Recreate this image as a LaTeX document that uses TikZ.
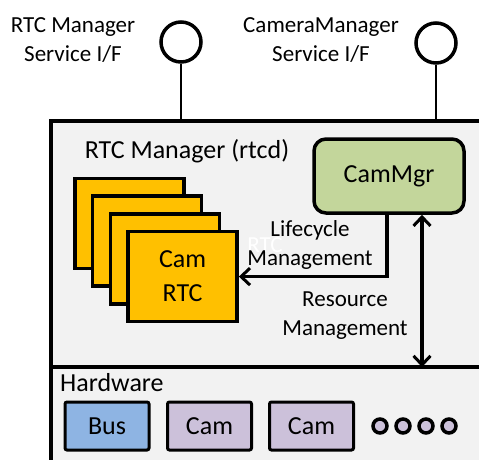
\documentclass[tikz,border=0pt]{standalone}
\usepackage{fontspec}
\setmainfont{Carlito}
\usetikzlibrary{arrows.meta}
\definecolor{bggray}{HTML}{F2F2F2}
\definecolor{rtcyellow}{HTML}{FFC000}
\definecolor{mgrgreen}{HTML}{C3D69B}
\definecolor{busblue}{HTML}{8EB4E3}
\definecolor{campurple}{HTML}{CCC1DA}
\tikzset{
  txt/.style={inner sep=0pt, font=\fontsize{23}{29}\selectfont, align=center},
  bigtxt/.style={inner sep=0pt, font=\fontsize{26}{34}\selectfont, align=center},
  ifcircle/.style={draw, circle, line width=3.5pt, minimum size=40pt, inner sep=0pt},
  rtcbox/.style={draw, line width=3.5pt, fill=rtcyellow, minimum width=109pt, minimum height=90pt, inner sep=0pt},
  hwbox/.style={draw, line width=3pt, rounded corners=2pt, minimum width=84pt, minimum height=48pt, inner sep=0pt, font=\fontsize{26}{30}\selectfont},
  hwdot/.style={draw, circle, line width=3.5pt, fill=campurple, minimum size=14pt, inner sep=0pt},
  barb/.tip={Straight Barb[length=9pt, width=17pt, line width=3pt]},
  mgmt/.style={line width=3.5pt}
}
\begin{document}
\begin{tikzpicture}[x=1pt, y=-1pt]
\useasboundingbox (0,0) rectangle (479,459);
\clip (0,0) rectangle (479,459);
\node[draw, line width=3.5pt, fill=bggray, minimum width=460pt, minimum height=360pt, anchor=north west, inner sep=0pt] (rtcd) at (49,119) {};
\draw[line width=3.5pt] (rtcd.west |- 0,367) coordinate (hwleft) -- (hwleft -| rtcd.east);

\node[ifcircle] (rtcif) at (181,42) {};
\node[ifcircle] (camif) at (436,43) {};
\draw[line width=2pt] (rtcif.south) -- (rtcif.south |- rtcd.north);
\draw[line width=2pt] (camif.south) -- (camif.south |- rtcd.north);
\node[txt] (rtciflabel) at (73,40) {RTC Manager\\Service I/F};
\node[txt] (camiflabel) at (321,40) {CameraManager\\Service I/F};

\node[bigtxt, anchor=base] (rtcdlabel) at (187,158) {RTC Manager (rtcd)};
\foreach \i in {0,1,2}
  \node[rtcbox] (rtc\i) at (129.5+17.7*\i, 223.5+17.7*\i) {};
\node[rtcbox, bigtxt] (camrtc) at (182.6,276.6) {Cam\\RTC};

\node[draw, line width=3.5pt, rounded corners=12pt, fill=mgrgreen, minimum width=150pt, minimum height=74pt, font=\fontsize{26}{30}\selectfont] (cammgr) at (389,176) {CamMgr};

\node[txt, anchor=base, text=white] (ghost) at (265,252) {RTC};
\draw[mgmt, -barb] ([xshift=-2pt]cammgr.south) |- (camrtc.east);
\node[txt] (lifelabel) at (310,245) {Lifecycle\\Management};

\coordinate (hwtop) at ([xshift=33pt]cammgr.south |- hwleft);
\draw[mgmt, barb-barb] ([xshift=33pt]cammgr.south) -- (hwtop);
\node[txt] (reslabel) at (345,316) {Resource\\Management};

\node[bigtxt, anchor=base west] (hwlabel) at (60,391) {Hardware};
\node[hwbox, fill=busblue] (bus) at (107,426) {Bus};
\node[hwbox, fill=campurple] (cam1) at (209.5,426) {Cam};
\node[hwbox, fill=campurple] (cam2) at (311.5,426) {Cam};
\foreach \i in {0,...,3}
  \node[hwdot] (dot\i) at (380+23*\i,426) {};
\end{tikzpicture}
\end{document}
